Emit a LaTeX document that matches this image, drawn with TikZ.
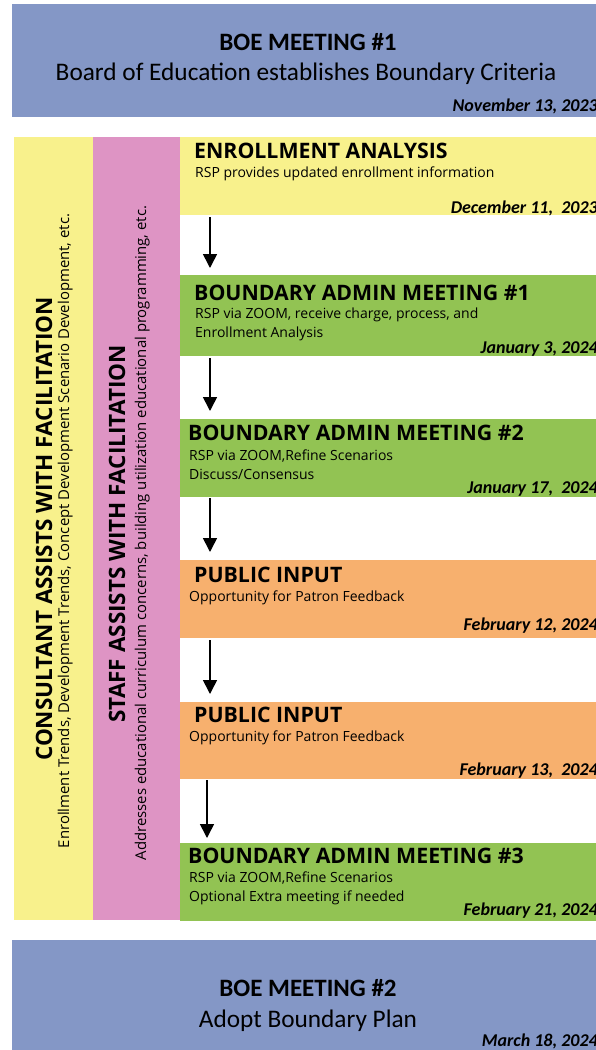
\documentclass[tikz,border=0pt]{standalone}
\usepackage{fontspec}
\setmainfont{Open Sans}
\newfontfamily\calfont{Carlito}
\usetikzlibrary{arrows.meta,positioning,calc}
\definecolor{BoeClr}{RGB}{132,151,198}
\definecolor{YelClr}{RGB}{248,241,140}
\definecolor{PinkClr}{RGB}{222,148,196}
\definecolor{GrnClr}{RGB}{146,195,83}
\definecolor{OrgClr}{RGB}{247,176,110}

\begin{document}
\begin{tikzpicture}[x=1pt,y=-1pt,
  band/.style={draw=none,inner sep=0pt,anchor=north west},
  ttl/.style={anchor=base west,inner sep=0pt,font=\bfseries\fontsize{21.3}{24}\selectfont},
  sub/.style={anchor=base west,inner sep=0pt,font=\fontsize{14}{16}\selectfont},
  dte/.style={anchor=base east,inner sep=0pt,font=\calfont\bfseries\itshape\fontsize{18}{21}\selectfont},
  boettl/.style={anchor=base,inner sep=0pt,font=\calfont\bfseries\fontsize{25}{28}\selectfont},
  boesub/.style={anchor=base,inner sep=0pt,font=\calfont\fontsize{25.3}{28}\selectfont},
  vttl/.style={rotate=90,anchor=base,inner sep=0pt,font=\bfseries\fontsize{22.5}{25}\selectfont},
  vsub/.style={rotate=90,anchor=base,inner sep=0pt,font=\fontsize{14.9}{17}\selectfont},
  flow/.style={-{Triangle[length=14pt,width=14pt]},line width=1.6pt}]
\useasboundingbox (0,0) rectangle (596,1050);

% BOE meeting #1
\node[band,fill=BoeClr,minimum width=600,minimum height=113] (boe1) at (12,4) {};
\node[boettl] (boe1t) at (308,50) {BOE MEETING \#1};
\node[boesub] (boe1s) at (306,80) {Board of Education establishes Boundary Criteria};
\node[dte] (boe1d) at (598,111) {November 13, 2023};

% side columns
\node[band,fill=YelClr,minimum width=79,minimum height=783] (cons) at (14,137) {};
\node[band,fill=PinkClr,minimum width=87,minimum height=783] (staff) at (93,137) {};
\node[vttl] (const) at (52,529) {CONSULTANT ASSISTS WITH FACILITATION};
\node[vsub] (conss) at (69,531) {Enrollment Trends, Development Trends, Concept Development Scenario Development, etc.};
\node[vttl] (stafft) at (125,534) {STAFF ASSISTS WITH FACILITATION};
\node[vsub] (staffs) at (146,533) {Addresses educational curriculum concerns, building utilization educational programming, etc.};

% steps
\node[band,fill=YelClr,minimum width=420,minimum height=78] (ea) at (180,137) {};
\node[ttl] (eat) at (194,158) {ENROLLMENT ANALYSIS};
\node[sub] (eas) at (195,177) {RSP provides updated enrollment information};
\node[dte] (ead) at (598,213) {December 11,\ \ 2023};

\node[band,fill=GrnClr,minimum width=420,minimum height=81] (bm1) at (180,275) {};
\node[ttl] (bm1t) at (194,300) {BOUNDARY ADMIN MEETING \#1};
\node[sub] (bm1s) at (195,318) {RSP via ZOOM, receive charge, process, and};
\node[sub] (bm1u) at (195,337) {Enrollment Analysis};
\node[dte] (bm1d) at (598,353) {January 3, 2024};

\node[band,fill=GrnClr,minimum width=420,minimum height=78] (bm2) at (180,419) {};
\node[ttl] (bm2t) at (188,440) {BOUNDARY ADMIN MEETING \#2};
\node[sub] (bm2s) at (189,460) {RSP via ZOOM,Refine Scenarios};
\node[sub] (bm2u) at (189,479) {Discuss/Consensus};
\node[dte] (bm2d) at (598,493) {January 17,\ \ 2024};

\node[band,fill=OrgClr,minimum width=420,minimum height=78] (pi1) at (180,560) {};
\node[ttl] (pi1t) at (194,582) {PUBLIC INPUT};
\node[sub] (pi1s) at (189,601) {Opportunity for Patron Feedback};
\node[dte] (pi1d) at (598,630) {February 12, 2024};

\node[band,fill=OrgClr,minimum width=420,minimum height=77] (pi2) at (180,702) {};
\node[ttl] (pi2t) at (194,722) {PUBLIC INPUT};
\node[sub] (pi2s) at (189,741) {Opportunity for Patron Feedback};
\node[dte] (pi2d) at (598,775) {February 13,\ \ 2024};

\node[band,fill=GrnClr,minimum width=420,minimum height=78] (bm3) at (180,843) {};
\node[ttl] (bm3t) at (188,863) {BOUNDARY ADMIN MEETING \#3};
\node[sub] (bm3s) at (189,882) {RSP via ZOOM,Refine Scenarios};
\node[sub] (bm3u) at (189,901) {Optional Extra meeting if needed};
\node[dte] (bm3d) at (598,915) {February 21, 2024};

% arrows
\coordinate (ax) at (210,0);
\coordinate (bx) at (207,0);
\draw[flow,shorten <=2pt,shorten >=7pt] (ax |- ea.south) -- (ax |- bm1.north);
\draw[flow,shorten <=2pt,shorten >=8pt] (ax |- bm1.south) -- (ax |- bm2.north);
\draw[flow,shorten <=1pt,shorten >=8pt] (ax |- bm2.south) -- (ax |- pi1.north);
\draw[flow,shorten <=2pt,shorten >=8pt] (ax |- pi1.south) -- (ax |- pi2.north);
\draw[flow,shorten <=1pt,shorten >=5pt] (bx |- pi2.south) -- (bx |- bm3.north);

% BOE meeting #2
\node[band,fill=BoeClr,minimum width=600,minimum height=115] (boe2) at (12,940) {};
\node[boettl] (boe2t) at (308,996) {BOE MEETING \#2};
\node[boesub] (boe2s) at (308,1027) {Adopt Boundary Plan};
\node[dte] (boe2d) at (598,1046) {March 18, 2024};
\end{tikzpicture}
\end{document}
